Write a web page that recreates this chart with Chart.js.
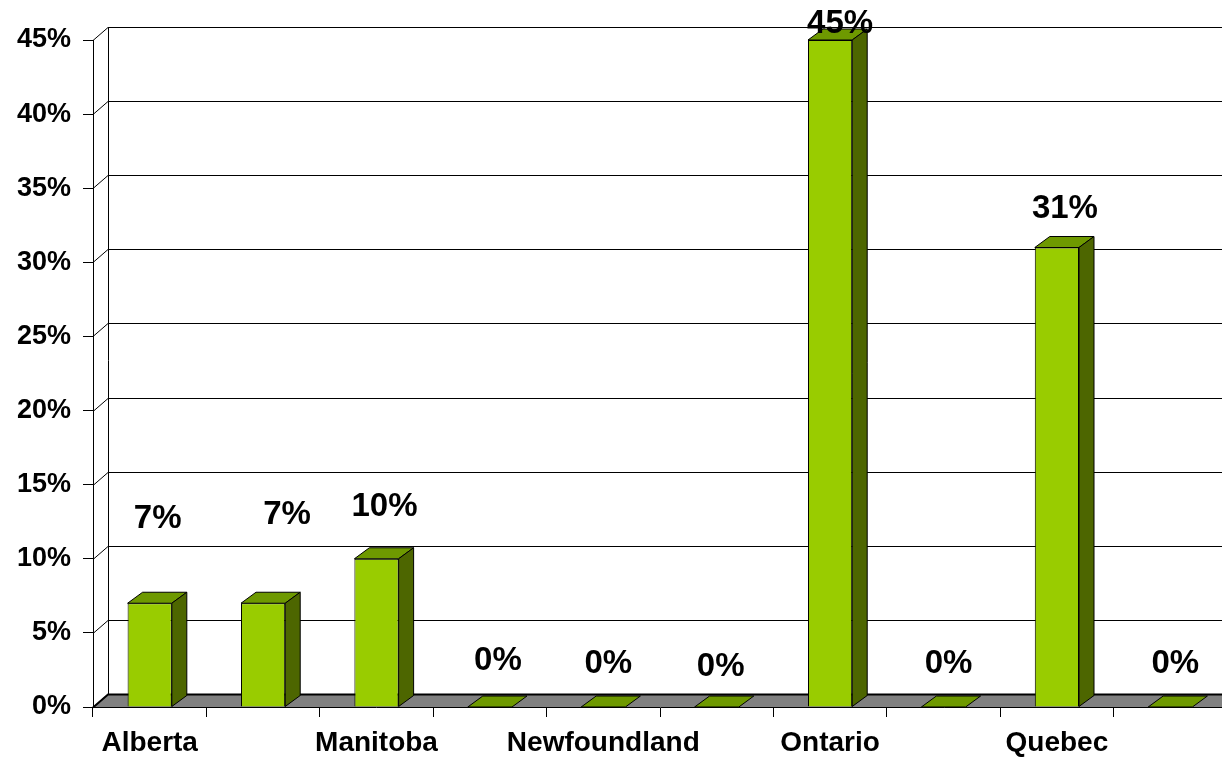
<!doctype html>
<html lang="en">
<head>
  <meta charset="utf-8">
  <title>Provinces</title>
  <style>
    * {
      margin: 0;
      padding: 0;
    }

    html, body {
      width: 1222px;
      height: 760px;
      overflow: hidden;
      background: #fff;
    }

    .chartBox {
      width: 1240px;
      height: 760px;
    }
  </style>
</head>
<body>
<div class="chartBox">
  <canvas id="myChart"></canvas>
</div>
<script src="https://cdn.jsdelivr.net/npm/chart.js"></script>
<script>
  // data
  const provinces = ['Alberta', 'British Columbia', 'Manitoba', 'New Brunswick', 'Newfoundland',
    'Nova Scotia', 'Ontario', 'Prince Edward Island', 'Quebec', 'Saskatchewan'];
  const shares = [7, 7, 10, 0, 0, 0, 45, 0, 31, 0];
  const yMax = 45;
  const yStep = 5;

  // label placement (px), as Excel put them
  const labelLift = [84, 88, 52, 46, 43, 40, 16, 43, 39, 43];
  const labelShift = [8, 24, 8, 8, 5, 4, 10, 5, 8, 5];

  const font = "'Liberation Sans', Arial, sans-serif";
  const depth = {wallX: 15, wallY: 13, barX: 15, barY: 11};

  const threeD = {
    id: 'threeD',
    beforeDraw(chart) {
      const {ctx, chartArea: {left, right, bottom}, scales: {y}} = chart;
      const wx = depth.wallX, wy = depth.wallY;
      ctx.save();
      // floor
      ctx.fillStyle = '#808080';
      ctx.beginPath();
      ctx.moveTo(left, bottom);
      ctx.lineTo(right, bottom);
      ctx.lineTo(right + wx, bottom - wy);
      ctx.lineTo(left + wx, bottom - wy);
      ctx.closePath();
      ctx.fill();

      ctx.strokeStyle = '#000';
      // back wall grid + left wall diagonals
      for (let v = 0; v <= yMax; v += yStep) {
        const py = Math.round(y.getPixelForValue(v)) + 0.5;
        ctx.lineWidth = v === 0 ? 2 : 1;
        ctx.beginPath();
        ctx.moveTo(left, py);
        ctx.lineTo(left + wx, py - wy);
        ctx.lineTo(chart.width, py - wy);
        ctx.stroke();
      }
      // back corner of the left wall
      ctx.lineWidth = 1;
      ctx.beginPath();
      ctx.moveTo(left + wx + 0.5, Math.round(y.getPixelForValue(yMax)) - wy);
      ctx.lineTo(left + wx + 0.5, Math.round(y.getPixelForValue(0)) - wy);
      ctx.stroke();
      ctx.restore();
    },
    afterDatasetsDraw(chart) {
      const {ctx} = chart;
      const bx = depth.barX, by = depth.barY;
      const meta = chart.getDatasetMeta(0);
      ctx.save();
      ctx.strokeStyle = '#000';
      ctx.lineWidth = 1;
      meta.data.forEach((bar, i) => {
        const L = bar.x - bar.width / 2;
        const R = bar.x + bar.width / 2;
        const T = bar.y;
        const B = bar.base;
        // top face
        ctx.fillStyle = '#6E9900';
        ctx.beginPath();
        ctx.moveTo(L, T);
        ctx.lineTo(R, T);
        ctx.lineTo(R + bx, T - by);
        ctx.lineTo(L + bx, T - by);
        ctx.closePath();
        ctx.fill();
        ctx.stroke();
        // side face
        if (B - T > 0.5) {
          ctx.fillStyle = '#4D6600';
          ctx.beginPath();
          ctx.moveTo(R, T);
          ctx.lineTo(R + bx, T - by);
          ctx.lineTo(R + bx, B - by);
          ctx.lineTo(R, B);
          ctx.closePath();
          ctx.fill();
          ctx.stroke();
        }
        // value label
        ctx.fillStyle = '#000';
        ctx.font = 'bold 33px ' + font;
        ctx.textAlign = 'center';
        ctx.textBaseline = 'middle';
        ctx.fillText(shares[i] + '%', bar.x + labelShift[i], T - labelLift[i]);
      });
      ctx.restore();
    }
  };

  // setup
  const data = {
    labels: provinces,
    datasets: [{
      data: shares,
      backgroundColor: '#99CC00',
      borderColor: '#000',
      borderWidth: 1,
      categoryPercentage: 1,
      barPercentage: 0.39
    }]
  };

  // config
  const config = {
    type: 'bar',
    data,
    options: {
      responsive: true,
      maintainAspectRatio: false,
      animation: false,
      layout: {padding: {top: 40, right: 13, left: 0, bottom: 0}},
      plugins: {
        legend: {display: false},
        tooltip: {enabled: false}
      },
      scales: {
        x: {
          grid: {display: true, drawOnChartArea: false, drawTicks: true, tickLength: 10, color: '#000', offset: true},
          border: {display: true, color: '#000', width: 1},
          ticks: {
            autoSkip: false,
            maxRotation: 0,
            padding: 9,
            color: '#000',
            font: {family: font, size: 28, weight: 'bold'},
            callback: (value, index) => index % 2 === 0 ? provinces[index] : ''
          },
          afterFit: (scale) => { scale.height = 53; }
        },
        y: {
          min: 0,
          max: yMax,
          grid: {display: true, drawOnChartArea: false, drawTicks: true, tickLength: 10, color: '#000'},
          border: {display: true, color: '#000', width: 1},
          ticks: {
            stepSize: yStep,
            padding: 12,
            color: '#000',
            font: {family: font, size: 27, weight: 'bold'},
            callback: (v) => v + '%'
          },
          afterFit: (scale) => { scale.width = 93; }
        }
      }
    },
    plugins: [threeD]
  };

  // render init block
  const myChart = new Chart(
    document.getElementById('myChart'),
    config
  );
</script>
</body>
</html>
